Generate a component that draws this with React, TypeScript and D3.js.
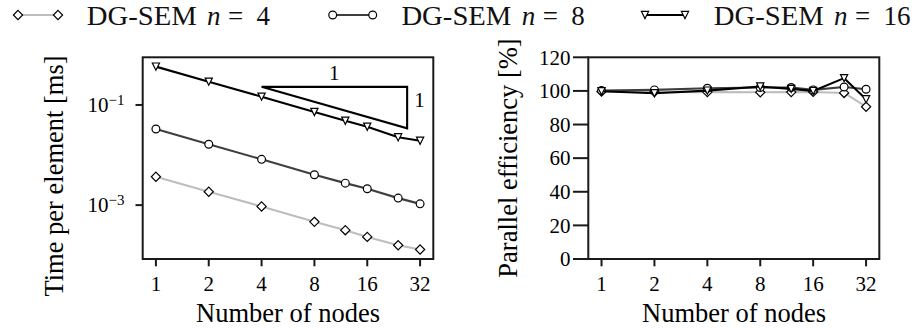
import React from 'react';
import * as d3 from 'd3';

const nodes = [1, 2, 4, 8, 12, 16, 24, 32];

// time per element [ms]
const timeN4 = [0.00368, 0.00185, 0.000941, 0.000464, 0.000316, 0.000232, 0.000158, 0.00013];
const timeN8 = [0.0331, 0.0164, 0.0082, 0.00404, 0.00275, 0.00212, 0.00138, 0.00106];
const timeN16 = [0.583, 0.292, 0.1466, 0.0724, 0.0485, 0.0368, 0.0226, 0.0193];

// parallel efficiency [%]
const effN4 = [99.6, 99.4, 99.3, 99.2, 99.3, 99.4, 98.8, 90.6];
const effN8 = [100.2, 100.6, 101.6, 102, 102, 100.6, 102.3, 101];
const effN16 = [99.8, 98.6, 100.2, 102.6, 101.2, 100, 107.6, 95];

const xTicks = [1, 2, 4, 8, 16, 32];
const timeTicks = [1e-1, 1e-3];
const timeTickExp = ['−1', '−3'];
const effTicks = [0, 20, 40, 60, 80, 100, 120];

// slope-one triangle corners (nodes, ms)
const slopeX = [4, 27];
const slopeY = [0.23, 0.23 * 4 / 27];

const seriesNames = ['4', '8', '16'];
const seriesColors = ['#bdbdbd', '#3f3f3f', '#000000'];
const seriesMarkers = ['diamond', 'circle', 'triangle'];

const serif = { fontFamily: '"Liberation Serif"' };

const Marker = ({ kind, x, y }: { kind: string; x: number; y: number }) => {
  const common = { fill: '#fff', stroke: '#000', strokeWidth: 1.2 };
  if (kind === 'diamond') {
    const r = 4.6;
    return <path d={`M${x},${y - r}L${x + r},${y}L${x},${y + r}L${x - r},${y}Z`} {...common} />;
  }
  if (kind === 'circle') return <circle cx={x} cy={y} r={3.9} {...common} />;
  const r = 3.6;
  return <path d={`M${x - r},${y - r}L${x + r},${y - r}L${x},${y + r}Z`} {...common} />;
};

const Series = ({ xs, ys, color, kind }: { xs: number[]; ys: number[]; color: string; kind: string }) => {
  const line = d3.line<number>().x((_, i) => xs[i]).y((_, i) => ys[i]);
  return (
    <g>
      <path d={line(xs) || ''} fill="none" stroke={color} strokeWidth={2.1} strokeLinejoin="round" />
      {xs.map((x, i) => (
        <Marker key={i} kind={kind} x={x} y={ys[i]} />
      ))}
    </g>
  );
};

export default function App() {
  const W = 914;
  const H = 328;
  const top = 57.3;
  const bottom = 259;

  const xLeft = d3.scaleLog().base(2).domain([Math.pow(2, -0.25), Math.pow(2, 5.25)]).range([142.7, 433.3]);
  const xRight = d3.scaleLog().base(2).domain([Math.pow(2, -0.25), Math.pow(2, 5.25)]).range([588.3, 879.3]);
  const yTime = d3.scaleLog().domain([8.4e-5, 0.895]).range([bottom, top]);
  const yEff = d3.scaleLinear().domain([0, 120]).range([bottom, top]);

  const times = [timeN4, timeN8, timeN16];
  const effs = [effN4, effN8, effN16];

  const legendX = [18, 332.7, 645];
  const tickFont = 21;
  const labelFont = 26.5;

  const sx0 = xLeft(slopeX[0]);
  const sx1 = xLeft(slopeX[1]);
  const sy0 = yTime(slopeY[0]);
  const sy1 = yTime(slopeY[1]);

  return (
    <svg width={W} height={H} style={{ position: 'absolute', left: 0, top: 0 }}>
      <rect width={W} height={H} fill="#fff" />

      {/* legend */}
      {seriesNames.map((name, i) => {
        const lx = legendX[i];
        return (
          <g key={name}>
            <line x1={lx} x2={lx + 40} y1={15} y2={15} stroke={seriesColors[i]} strokeWidth={2.1} />
            <Marker kind={seriesMarkers[i]} x={lx} y={15} />
            <Marker kind={seriesMarkers[i]} x={lx + 40} y={15} />
            <text x={lx + 68.7} y={25} fontSize={27} fill="#111" style={serif} textLength={110} lengthAdjust="spacingAndGlyphs">
              DG-SEM
            </text>
            <text x={lx + 189} y={25} fontSize={27} fontStyle="italic" fill="#111" style={serif}>
              n
            </text>
            <text x={lx + 210} y={25} fontSize={27} fill="#111" style={serif}>
              =
            </text>
            <text x={lx + 238.5} y={25} fontSize={27} fill="#111" style={serif}>
              {name}
            </text>
          </g>
        );
      })}

      {/* left panel */}
      <g>
        {times.map((t, i) => (
          <Series key={i} xs={nodes.map((n) => xLeft(n))} ys={t.map((v) => yTime(v))} color={seriesColors[i]} kind={seriesMarkers[i]} />
        ))}
        <path
          d={`M${sx0},${sy0}L${sx1},${sy0}L${sx1},${sy1}Z`}
          fill="none"
          stroke="#000"
          strokeWidth={2.1}
          strokeLinejoin="miter"
        />
        <text x={(sx0 + sx1) / 2} y={sy0 - 7} fontSize={21} textAnchor="middle" style={serif}>1</text>
        <text x={sx1 + 7} y={(sy0 + sy1) / 2 - 0.5} fontSize={21} style={serif}>1</text>

        <rect x={142.7} y={top} width={433.3 - 142.7} height={bottom - top} fill="none" stroke="#1a1a1a" strokeWidth={2} />
        {timeTicks.map((t, i) => (
          <g key={t}>
            <line x1={135.5} x2={142.7} y1={yTime(t)} y2={yTime(t)} stroke="#1a1a1a" strokeWidth={2} />
            <text x={124.5} y={yTime(t) + 7.3} fontSize={tickFont} textAnchor="end" style={serif}>
              10<tspan dy={-7.5} fontSize={15}>{timeTickExp[i]}</tspan>
            </text>
          </g>
        ))}
        {xTicks.map((t) => (
          <g key={t}>
            <line x1={xLeft(t)} x2={xLeft(t)} y1={bottom} y2={bottom + 7.3} stroke="#1a1a1a" strokeWidth={2} />
            <text x={xLeft(t)} y={290.7} fontSize={tickFont} textAnchor="middle" style={serif}>{t}</text>
          </g>
        ))}
        <text x={288} y={322} fontSize={labelFont} textAnchor="middle" style={serif}>Number of nodes</text>
        <text transform="translate(63,176) rotate(-90)" fontSize={labelFont} textAnchor="middle" style={serif}>
          Time per element [ms]
        </text>
      </g>

      {/* right panel */}
      <g>
        {effs.map((e, i) => (
          <Series key={i} xs={nodes.map((n) => xRight(n))} ys={e.map((v) => yEff(v))} color={seriesColors[i]} kind={seriesMarkers[i]} />
        ))}
        <rect x={588.3} y={top} width={879.3 - 588.3} height={bottom - top} fill="none" stroke="#1a1a1a" strokeWidth={2} />
        {effTicks.map((t) => (
          <g key={t}>
            <line x1={573} x2={588.3} y1={yEff(t)} y2={yEff(t)} stroke="#1a1a1a" strokeWidth={2} />
            <text x={570.5} y={yEff(t) + 7.3} fontSize={tickFont} textAnchor="end" style={serif}>{t}</text>
          </g>
        ))}
        {xTicks.map((t) => (
          <g key={t}>
            <line x1={xRight(t)} x2={xRight(t)} y1={bottom} y2={bottom + 7.3} stroke="#1a1a1a" strokeWidth={2} />
            <text x={xRight(t)} y={290.7} fontSize={tickFont} textAnchor="middle" style={serif}>{t}</text>
          </g>
        ))}
        <text x={734} y={322} fontSize={labelFont} textAnchor="middle" style={serif}>Number of nodes</text>
        <text transform="translate(517,158) rotate(-90)" fontSize={labelFont} textAnchor="middle" style={serif}>
          Parallel efficiency [%]
        </text>
      </g>
    </svg>
  );
}
